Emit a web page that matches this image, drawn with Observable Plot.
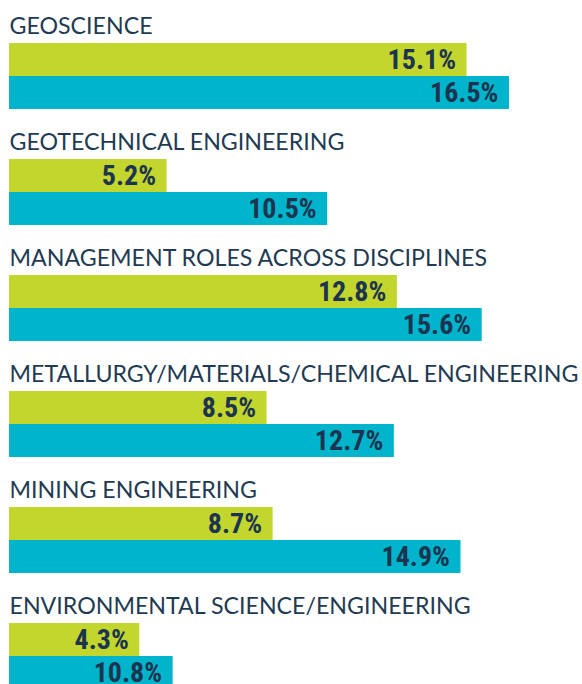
<!DOCTYPE html>
<html>
<head>
<meta charset="utf-8">
<script src="https://cdn.jsdelivr.net/npm/d3@7"></script>
<script src="https://cdn.jsdelivr.net/npm/@observablehq/plot@0.6"></script>
<style>
  html, body { margin: 0; padding: 0; background: #fff; }
  #chart svg { display: block; }
</style>
</head>
<body>
<div id="chart"></div>
<script>
const categories = [
  "GEOSCIENCE",
  "GEOTECHNICAL ENGINEERING",
  "MANAGEMENT ROLES ACROSS DISCIPLINES",
  "METALLURGY/MATERIALS/CHEMICAL ENGINEERING",
  "MINING ENGINEERING",
  "ENVIRONMENTAL SCIENCE/ENGINEERING"
];
const series = ["A", "B"];
// printed values
const valuesA = [15.1, 5.2, 12.8, 8.5, 8.7, 4.3];
const valuesB = [16.5, 10.5, 15.6, 12.7, 14.9, 10.8];
// drawn bar lengths as they appear in the picture (last teal bar is drawn short in the source)
const barsA = [15.1, 5.2, 12.8, 8.5, 8.7, 4.3];
const barsB = [16.5, 10.5, 15.6, 12.7, 14.9, 5.4];
const colors = ["#c2d62e", "#00b4cc"];

const data = [];
categories.forEach((c, i) => {
  data.push({category: c, series: series[0], value: valuesA[i], bar: barsA[i]});
  data.push({category: c, series: series[1], value: valuesB[i], bar: barsB[i]});
});

const chart = Plot.plot({
  width: 582,
  height: 684,
  marginLeft: 9,
  marginRight: 0,
  marginTop: 0,
  marginBottom: 0,
  x: {domain: [0, 18.91], axis: null},
  y: {domain: series, axis: null, padding: 0},
  fy: {domain: categories, axis: null, range: [41.2, 691], paddingInner: 0.432, paddingOuter: 0},
  color: {domain: series, range: colors},
  style: {background: "#fff"},
  marks: [
    Plot.barX(data, {fy: "category", y: "series", x: "bar", fill: "series"}),
    Plot.text(data, {
      fy: "category", y: "series", x: "bar",
      text: d => d.value.toFixed(1) + "%",
      textAnchor: "end", dx: -11,
      fill: "#1d3450",
      fontSize: 28,
      fontWeight: "bold",
      fontFamily: "'Liberation Sans Narrow', 'Roboto Condensed', 'DejaVu Sans Condensed', sans-serif"
    }),
    Plot.text(categories, {
      fy: d => d,
      text: d => d,
      frameAnchor: "top-left",
      textAnchor: "start",
      lineAnchor: "bottom",
      dx: 0,
      dy: -10,
      fill: "#1f3b53",
      fontSize: 23.2,
      fontFamily: "Lato, 'Open Sans', sans-serif"
    })
  ]
});
document.getElementById("chart").appendChild(chart);
</script>
</body>
</html>
